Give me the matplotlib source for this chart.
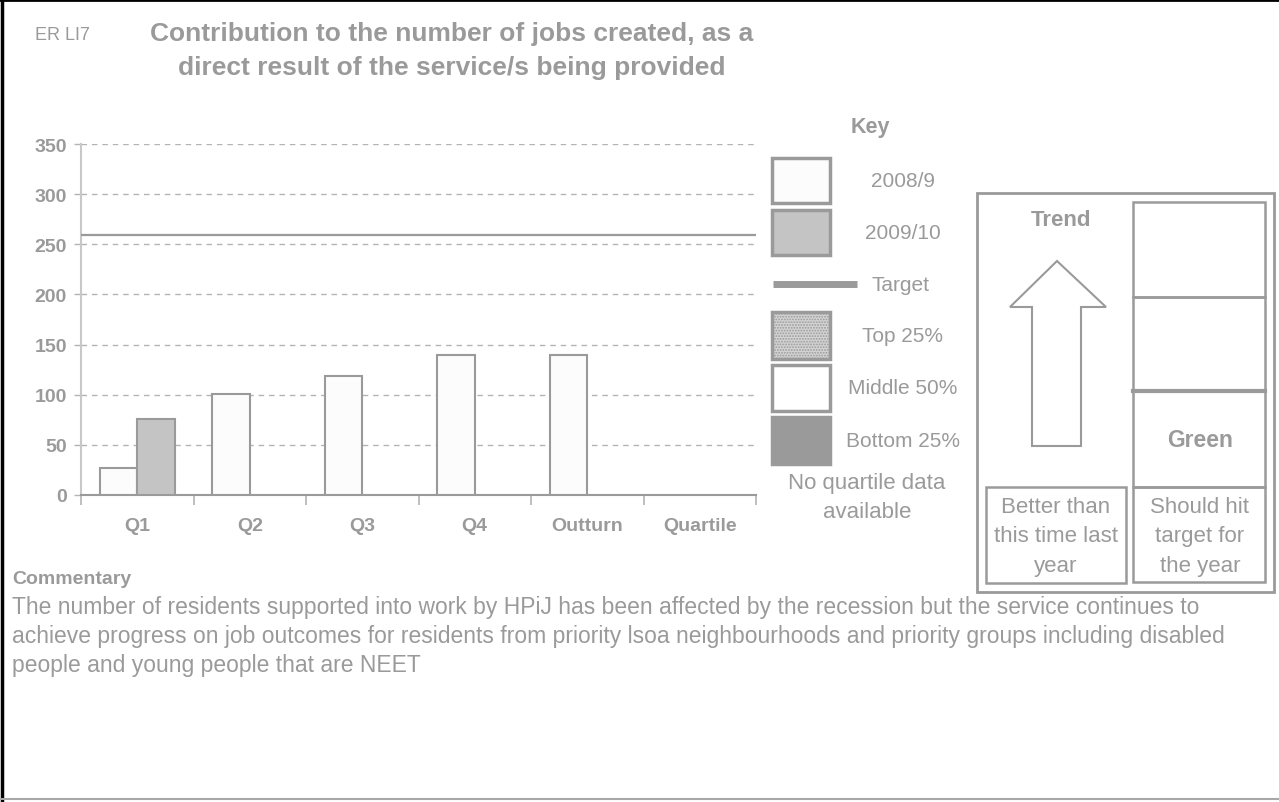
import matplotlib
matplotlib.use('Agg')
import matplotlib.pyplot as plt
from matplotlib.patches import Rectangle, Polygon
from matplotlib.lines import Line2D

plt.rcParams['font.family'] = ['Liberation Sans', 'DejaVu Sans']
plt.rcParams['hatch.color'] = '#9a9a9a'
plt.rcParams['hatch.linewidth'] = 0.9

GREY = '#9a9a9a'

# data
categories = ['Q1', 'Q2', 'Q3', 'Q4', 'Outturn', 'Quartile']
values_2008 = [27, 101, 119, 140, 140, None]
values_2009 = [76, None, None, None, None, None]
target = 259
y_ticks = [0, 50, 100, 150, 200, 250, 300, 350]

title = 'Contribution to the number of jobs created, as a\ndirect result of the service/s being provided'
commentary = ('The number of residents supported into work by HPiJ has been affected by the recession but the service continues to\n'
              'achieve progress on job outcomes for residents from priority lsoa neighbourhoods and priority groups including disabled\n'
              'people and young people that are NEET')

W, H = 1279, 803
fig = plt.figure(figsize=(W / 100, H / 100), dpi=100, facecolor='white')

# background layer in pixel coordinates (y down)
bg = fig.add_axes([0, 0, 1, 1])
bg.set_xlim(0, W)
bg.set_ylim(H, 0)
bg.axis('off')

# main chart
ax = fig.add_axes([81 / W, 1 - 496 / H, 675 / W, (496 - 145) / H])
xs = list(range(len(categories)))
bw = 1 / 3
for i, v in enumerate(values_2008):
    if v is not None:
        ax.bar(i - bw / 2, v, width=bw, color='#fcfcfc', edgecolor=GREY, linewidth=1.5, zorder=3)
for i, v in enumerate(values_2009):
    if v is not None:
        ax.bar(i + bw / 2, v, width=bw, color='#c4c4c4', edgecolor=GREY, linewidth=1.5, zorder=3)
ax.axhline(target, color=GREY, linewidth=1.6, zorder=4)

ax.set_xlim(-0.5, len(categories) - 0.5)
ax.set_ylim(0, 350)
ax.set_yticks(y_ticks)
ax.yaxis.grid(True, color='#b4b4b4', linestyle=(0, (4, 3.5)), linewidth=1)
ax.set_axisbelow(True)
ax.set_xticks(xs)
ax.set_xticklabels(categories)
ax.set_xticks([x - 0.5 for x in xs] + [len(categories) - 0.5], minor=True)
ax.tick_params(axis='x', which='major', length=0, pad=16)
ax.tick_params(axis='x', which='minor', length=7, color='#b4b4b4', width=1.2)
ax.tick_params(axis='y', length=5, color='#b4b4b4', width=1, pad=5)
for lab in ax.get_xticklabels() + ax.get_yticklabels():
    lab.set_color(GREY)
    lab.set_fontweight('bold')
    lab.set_fontsize(14)
for s in ['top', 'right']:
    ax.spines[s].set_visible(False)
ax.spines['left'].set_color('#c8c8c8')
ax.spines['left'].set_linewidth(1.5)
ax.spines['bottom'].set_color(GREY)
ax.spines['bottom'].set_linewidth(1.5)
ax.patch.set_alpha(0)

# page border
bg.add_line(Line2D([1.5, 1.5], [0, H], color='black', linewidth=2.5))
bg.add_line(Line2D([0, W], [1, 1], color='black', linewidth=2))
bg.add_line(Line2D([0, W], [800, 800], color='#a8a8a8', linewidth=1.5))

# titles
bg.text(35, 36, 'ER LI7', color=GREY, fontsize=13, ha='left', va='center')
bg.text(452, 51, title, color=GREY, fontsize=19, fontweight='bold', ha='center', va='center',
        linespacing=1.5)

# key
bg.text(870, 128, 'Key', color=GREY, fontsize=15.5, fontweight='bold', ha='center', va='center')
key_items = [
    ('2008/9', 159, 204, dict(facecolor='#fcfcfc')),
    ('2009/10', 211, 256, dict(facecolor='#c4c4c4')),
    ('Top 25%', 313, 360, dict(facecolor='#d4d4d4', hatch='......')),
    ('Middle 50%', 366, 412, dict(facecolor='white')),
    ('Bottom 25%', 418, 465, dict(facecolor=GREY)),
]
for label, y0, y1, style in key_items:
    bg.add_patch(Rectangle((772, y0), 58, y1 - y0, edgecolor=GREY, linewidth=2.5, **style))
    bg.text(903, (y0 + y1) / 2, label, color=GREY, fontsize=15, ha='center', va='center')
bg.add_line(Line2D([773, 857], [285, 285], color=GREY, linewidth=5, solid_capstyle='butt'))
bg.text(900, 286, 'Target', color=GREY, fontsize=15, ha='center', va='center')
bg.text(867, 498, 'No quartile data\navailable', color=GREY, fontsize=16, ha='center', va='center',
        linespacing=1.45)

# trend / RAG panel
bg.add_patch(Rectangle((977, 194), 297, 399, fill=False, edgecolor=GREY, linewidth=2))
for y0, y1 in [(203, 298), (298, 392), (392, 488), (488, 583)]:
    bg.add_patch(Rectangle((1133, y0), 132, y1 - y0, fill=False, edgecolor=GREY, linewidth=1.8))
bg.add_line(Line2D([1133, 1265], [392, 392], color=GREY, linewidth=3))
bg.add_patch(Rectangle((986, 488), 140, 96, fill=False, edgecolor=GREY, linewidth=1.8))
bg.text(1061, 220, 'Trend', color=GREY, fontsize=16, fontweight='bold', ha='center', va='center')
bg.text(1200, 441, 'Green', color=GREY, fontsize=16.5, fontweight='bold', ha='center', va='center')
arrow = [(1057, 262), (1106, 308), (1081, 308), (1081, 447), (1032, 447), (1032, 308), (1010, 308)]
bg.add_patch(Polygon(arrow, closed=True, facecolor='white', edgecolor=GREY, linewidth=1.5))
bg.text(1056, 537, 'Better than\nthis time last\nyear', color=GREY, fontsize=16, ha='center',
        va='center', linespacing=1.52)
bg.text(1200, 537, 'Should hit\ntarget for\nthe year', color=GREY, fontsize=16, ha='center',
        va='center', linespacing=1.52)

# commentary
bg.text(12, 580, 'Commentary', color=GREY, fontsize=14, fontweight='bold', ha='left', va='center')
bg.text(12, 596, commentary, color=GREY, fontsize=16.5, ha='left', va='top', linespacing=1.32)

fig.savefig('out.png', dpi=100, facecolor='white')
